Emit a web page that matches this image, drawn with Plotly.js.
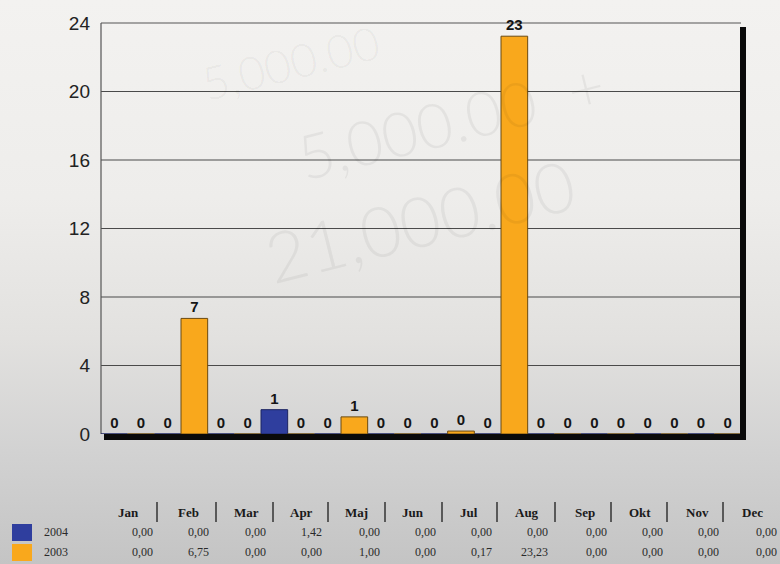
<!DOCTYPE html>
<html>
<head>
<meta charset="utf-8">
<script src="https://cdn.plot.ly/plotly-3.0.1.min.js"></script>
<style>
html,body{margin:0;padding:0;}
body{width:780px;height:564px;overflow:hidden;
background:linear-gradient(180deg,#f3f2f0 0%,#eeedeb 35%,#e2e1df 60%,#d2d2d2 80%,#c4c4c4 100%);}
#chart{width:780px;height:564px;}
</style>
</head>
<body>
<div id="chart"></div>
<script>
// ---- data ----
const months = ["Jan","Feb","Mar","Apr","Maj","Jun","Jul","Aug","Sep","Okt","Nov","Dec"];
const seriesNames = ["2004","2003"];
const values2004 = [0,0,0,1.42,0,0,0,0,0,0,0,0];
const values2003 = [0,6.75,0,0,1.00,0,0.17,23.23,0,0,0,0];
const yTicks = [0,4,8,12,16,20,24];

const colors = ["#2f3e9e","#f9a81c"];

// plot area in pixels
const L = 101, R = 741, T = 23, B = 434;
const W = 780, H = 564;
const px = x => (x - L) / (R - L);
const py = y => (B - y) / (B - T);

const labelFont = {family:"Liberation Sans, Arial", size:15, color:"#151515", weight:700};
const traces = [
  {type:"bar", name:seriesNames[0], x:months, y:values2004,
   marker:{color:colors[0], line:{color:"#1c2460", width:1}},
   text:values2004.map(v=>String(Math.round(v))), textposition:"outside",
   textfont:labelFont, cliponaxis:false, hoverinfo:"skip"},
  {type:"bar", name:seriesNames[1], x:months, y:values2003,
   marker:{color:colors[1], line:{color:"#6b4a10", width:1}},
   text:values2003.map(v=>String(Math.round(v))), textposition:"outside",
   textfont:labelFont, cliponaxis:false, hoverinfo:"skip"}
];

const shapes = [];
const annotations = [];

// gridlines
yTicks.filter(v=>v>0 && v<24).forEach(v=>{
  shapes.push({type:"line", xref:"paper", yref:"y", x0:0, x1:1, y0:v, y1:v,
    line:{color:"#4a4a4a", width:1.2}, layer:"below"});
});
// border top & left (thin grey)
shapes.push({type:"line", xref:"paper", yref:"paper", x0:0, x1:1, y0:1, y1:1, line:{color:"#555", width:1.2}, layer:"below"});
shapes.push({type:"line", xref:"paper", yref:"paper", x0:0, x1:0, y0:0, y1:1, line:{color:"#555", width:1.2}, layer:"below"});
// shadow right & bottom (thick black)
shapes.push({type:"line", xref:"paper", yref:"paper", x0:px(104), x1:px(746), y0:py(437), y1:py(437), line:{color:"#0a0a0a", width:6}});
shapes.push({type:"line", xref:"paper", yref:"paper", x0:px(743), x1:px(743), y0:py(27), y1:py(440), line:{color:"#0a0a0a", width:6}});

// faded background writing
const bgText = [
  {t:"5,000.00", x:290, y:62, size:46},
  {t:"5,000.00  +", x:450, y:120, size:62},
  {t:"21,000.00", x:420, y:220, size:70}
];
bgText.forEach(b=>{
  annotations.push({xref:"paper", yref:"paper", x:px(b.x), y:py(b.y), text:b.t, showarrow:false,
    textangle:-14, font:{family:"Lato", size:b.size, weight:300, color:"rgba(0,0,0,0.05)"}, xanchor:"center", yanchor:"middle"});
});

// table
const headerX = [128,188,246,301,356,413,469,527,585,640,697,752];
const valueRight = [155,211,268,324,382,438,494,550,609,665,721,779];
const sepX = [157,216,273,328,385,442,497,555,611,667,723];
months.forEach((m,i)=>{
  annotations.push({xref:"paper", yref:"paper", x:px(headerX[i]), y:py(512), text:"<b>"+m+"</b>", showarrow:false,
    xanchor:"center", yanchor:"middle", font:{family:"Liberation Serif", size:13, color:"#1a1a1a"}});
});
sepX.forEach(x=>{
  shapes.push({type:"line", xref:"paper", yref:"paper", x0:px(x), x1:px(x), y0:py(502), y1:py(522), line:{color:"#333", width:1.5}});
});
const fmt = v => v.toFixed(2).replace(".", ",");
[values2004, values2003].forEach((vals,r)=>{
  const yy = r===0 ? 532 : 552;
  vals.forEach((v,i)=>{
    annotations.push({xref:"paper", yref:"paper", x:px(valueRight[i]), y:py(yy), text:fmt(v), showarrow:false,
      xanchor:"right", yanchor:"middle", font:{family:"Liberation Serif", size:12, color:"#2a2a2a"}});
  });
  shapes.push({type:"rect", xref:"paper", yref:"paper", x0:px(12), x1:px(32), y0:py(yy+9), y1:py(yy-8),
    fillcolor:colors[r], line:{width:0}});
  annotations.push({xref:"paper", yref:"paper", x:px(42), y:py(yy), text:seriesNames[r], showarrow:false,
    xanchor:"left", yanchor:"middle", font:{family:"Liberation Serif", size:12, color:"#2a2a2a"}});
});

const layout = {
  width:W, height:H,
  margin:{l:L, r:W-R, t:T, b:H-B, pad:0},
  paper_bgcolor:"rgba(0,0,0,0)", plot_bgcolor:"rgba(0,0,0,0)",
  barmode:"group", bargap:0, bargroupgap:0,
  showlegend:false,
  xaxis:{type:"category", categoryarray:months, showticklabels:false, showgrid:false, zeroline:false, showline:false, ticks:""},
  yaxis:{range:[0,24], tickvals:yTicks, showgrid:false, zeroline:false, showline:false, ticks:"",
    ticklabelstandoff:10,
    tickfont:{family:"Liberation Sans, Arial", size:19, color:"#222"}},
  shapes:shapes, annotations:annotations
};

Plotly.newPlot("chart", traces, layout, {displayModeBar:false, staticPlot:true});
</script>
</body>
</html>
